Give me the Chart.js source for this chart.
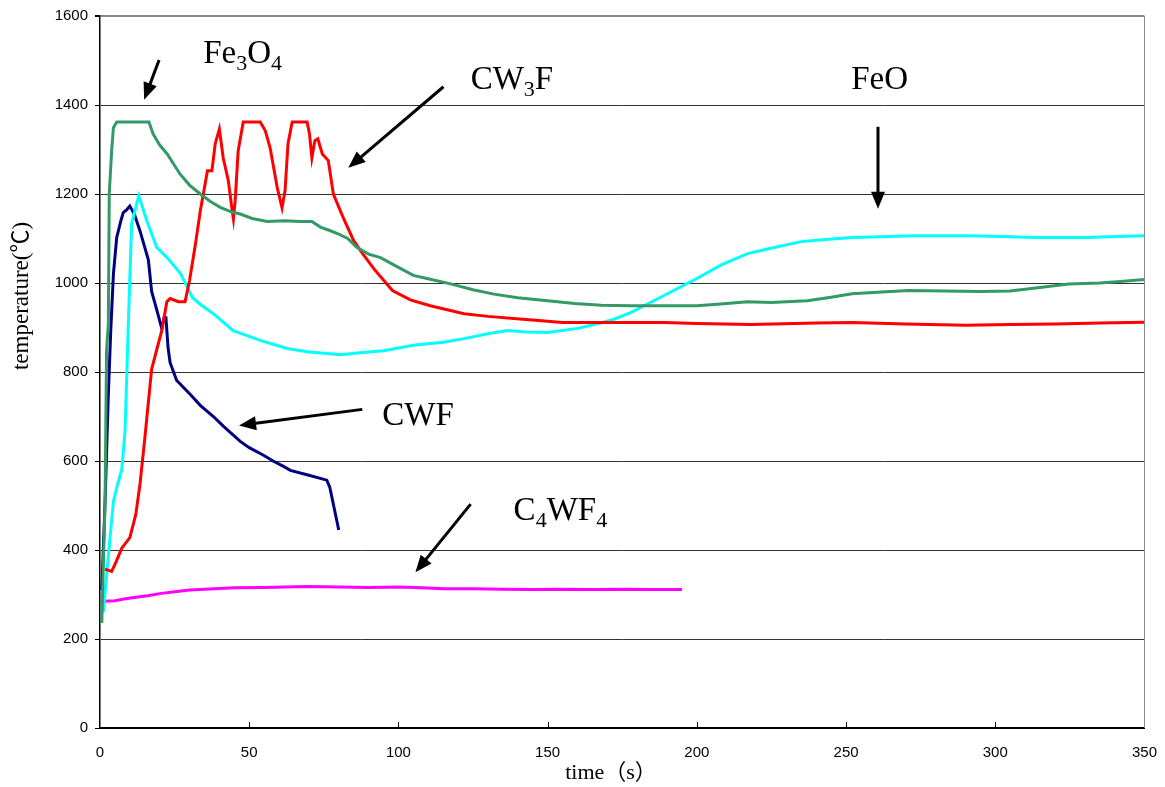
<!DOCTYPE html>
<html><head><meta charset="utf-8">
<script src="https://cdn.jsdelivr.net/npm/chart.js@4.4.1/dist/chart.umd.min.js"></script>
<style>html,body{margin:0;padding:0;background:#fff;}</style>
</head><body>
<canvas id="c" width="1165" height="787"></canvas>
<script>
// ---- data (time in s, temperature in °C) ----
const fe3o4Time = [0.6,1.7,2.2,2.8,3.1,3.9,4.5,5.6,10,16.4,17.8,20,22.5,26.8,30,33.6,37,40.3,44,47,51,56,62,67,71,74,77,80,83,86,90,94,100,105,111,117.5,125,132,140,150,159,168,178,190,200,208,217,225,237,245,252,262,271,283,295,305,315,324.5,335,343,350];
const fe3o4Temp = [236,509,848,909,1200,1297,1349,1362,1362,1362,1335,1310,1290,1245,1220,1200,1183,1170,1160,1155,1145,1138,1140,1138,1138,1125,1118,1110,1100,1080,1065,1057,1035,1017,1008,998,985,975,967,960,954,950,949,949,949,953,958,956,960,968,976,980,983,982,981,982,990,998,1000,1004,1008];

const cw3fTime = [1.7,3.9,5.5,7.3,10,12,13.4,15,17.3,19,20.7,22.4,23.5,26.3,28.5,30,32,33.6,35,36,37.5,38.6,40,41.3,43,44.3,44.7,45.3,46.3,48,53.7,55.4,57,59.4,61,62,63,64.4,69.4,70.2,71,72,73,74.5,76.5,78.2,81.5,85,88,92,98,104,110.7,122,130,138.6,148,155,165,178,189,200,218,240,252,270,290,305,320,335,350];
const cw3fTemp = [357,352,375,404,428,480,548,650,806,850,893,958,965,958,958,1005,1088,1162,1214,1252,1252,1313,1346,1281,1230,1162,1144,1185,1297,1362,1362,1342,1304,1214,1169,1207,1313,1362,1362,1335,1281,1320,1324,1290,1275,1200,1147,1095,1066,1030,983,962,949,931,925,920,915,911,911,911,911,909,907,910,911,908,905,907,908,910,912];

const feoTime = [1.1,2.8,4.5,6,7.3,8.4,9.5,10.6,13,15.7,19,22.5,27,31,34,38,44.6,50,53.7,62.7,70,77,80.5,88,95,105,115,122,130,136.5,143,150,160,167,172,178,189,200,208,217,224,235,243,252,262,273,291,305,313,330,350];
const feoTemp = [260,388,509,550,581,669,909,1133,1196,1140,1080,1057,1021,967,950,931,893,880,871,853,845,841,839,844,848,860,867,875,886,893,890,889,898,909,918,934,972,1010,1040,1066,1077,1093,1098,1102,1104,1106,1106,1104,1102,1102,1106];

const cwfTime = [0.6,1.7,2.8,3.6,4.5,5.6,7,7.8,9,10,11.5,13.4,15,16.2,17.3,19,20.7,21.5,22.1,22.8,23.5,25.7,30.2,33.6,38,41.4,47,50,54.8,58,61.5,63.8,70,76,77,80];
const cwfTemp = [310,509,750,893,1021,1102,1140,1158,1165,1173,1155,1117,1080,1052,981,940,898,922,922,855,821,781,750,725,700,678,644,630,613,600,588,579,568,557,541,445];

const c4wf4Time = [1,5,8,12,16,20,25,30,35,45,55,62,70,80,90,100,108,115,125,135,145,155,165,175,185,195];
const c4wf4Temp = [285,286,290,294,297,302,306,310,312,315,316,317,318,317,316,317,315,313,313,312,311,312,311,312,311,311];

const xTicks = [0,50,100,150,200,250,300,350];
const yTicks = [0,200,400,600,800,1000,1200,1400,1600];

// ---- annotations (in data units) ----
const notes = [
  {parts:[['Fe',0],['3',1],['O',0],['4',1]], at:[34.6,1495], arrow:[[19.8,1501],[14.8,1412]]},
  {parts:[['CW',0],['3',1],['F',0]],          at:[124.2,1436], arrow:[[115.1,1441],[83.2,1259]]},
  {parts:[['FeO',0]],                         at:[251.7,1436], arrow:[[260.7,1351],[260.7,1167]]},
  {parts:[['CWF',0]],                         at:[94.6,680],  arrow:[[87.9,716],[46.6,680]]},
  {parts:[['C',0],['4',1],['WF',0],['4',1]],  at:[138.6,467], arrow:[[124.2,503],[105.7,350]]}
];

function pts(t, v){ return t.map((x,i)=>({x:x, y:v[i]})); }

const decor = {
  id:'decor',
  afterDraw(chart){
    const {ctx, chartArea:a, scales:{x, y}} = chart;
    ctx.save();
    // right frame line
    ctx.strokeStyle = '#888'; ctx.lineWidth = 1;
    const rx = Math.round(a.right)+0.5;
    ctx.beginPath(); ctx.moveTo(rx, a.top); ctx.lineTo(rx, a.bottom); ctx.stroke();
    // inward x tick marks
    ctx.strokeStyle = '#000';
    xTicks.forEach(v=>{
      if (v===0 || v===350) return;
      const px = Math.round(x.getPixelForValue(v))+0.5;
      ctx.beginPath(); ctx.moveTo(px, a.bottom); ctx.lineTo(px, a.bottom-6); ctx.stroke();
    });
    // labels and arrows
    ctx.fillStyle = '#000'; ctx.strokeStyle = '#000';
    ctx.textAlign = 'left'; ctx.textBaseline = 'alphabetic';
    notes.forEach(n=>{
      let px = x.getPixelForValue(n.at[0]);
      const py = y.getPixelForValue(n.at[1]);
      n.parts.forEach(([t, sub])=>{
        ctx.font = sub ? '22px "Liberation Serif"' : '33px "Liberation Serif"';
        ctx.fillText(t, px, py + (sub ? 7 : 0));
        px += ctx.measureText(t).width;
      });
      const x0 = x.getPixelForValue(n.arrow[0][0]), y0 = y.getPixelForValue(n.arrow[0][1]);
      const x1 = x.getPixelForValue(n.arrow[1][0]), y1 = y.getPixelForValue(n.arrow[1][1]);
      const ang = Math.atan2(y1-y0, x1-x0), hl = 17, hw = 7;
      const bx = x1 - hl*Math.cos(ang), by = y1 - hl*Math.sin(ang);
      ctx.lineWidth = 3;
      ctx.beginPath(); ctx.moveTo(x0, y0); ctx.lineTo(bx + 2*Math.cos(ang), by + 2*Math.sin(ang)); ctx.stroke();
      ctx.beginPath();
      ctx.moveTo(x1, y1);
      ctx.lineTo(bx + hw*Math.sin(ang), by - hw*Math.cos(ang));
      ctx.lineTo(bx - hw*Math.sin(ang), by + hw*Math.cos(ang));
      ctx.closePath(); ctx.fill();
    });
    // axis titles
    ctx.font = '22px "Liberation Serif", "Noto Sans CJK JP"';
    ctx.textAlign = 'center'; ctx.textBaseline = 'middle';
    ctx.fillText('time（s）', 611, 773);
    ctx.translate(22, 296); ctx.rotate(-Math.PI/2);
    ctx.font = '23px "Liberation Serif", "Noto Sans CJK JP"';
    ctx.fillText('temperature(℃)', 0, 0);
    ctx.restore();
  }
};

const mk = (label, t, v, color) => ({
  label, data: pts(t, v), borderColor: color, backgroundColor: color,
  borderWidth: 3, pointRadius: 0, tension: 0, fill: false
});

new Chart(document.getElementById('c'), {
  type: 'line',
  data: { datasets: [
    mk('Fe3O4', fe3o4Time, fe3o4Temp, '#339966'),
    mk('CW3F', cw3fTime, cw3fTemp, '#FF0000'),
    mk('FeO', feoTime, feoTemp, '#00FFFF'),
    mk('CWF', cwfTime, cwfTemp, '#000080'),
    mk('C4WF4', c4wf4Time, c4wf4Temp, '#FF00FF')
  ]},
  options: {
    responsive: false, animation: false, devicePixelRatio: 1,
    layout: { padding: { left: 0, right: 15, top: 15, bottom: 0 } },
    plugins: { legend: { display: false }, tooltip: { enabled: false } },
    scales: {
      x: {
        type: 'linear', min: 0, max: 350,
        afterBuildTicks: s => { s.ticks = xTicks.map(v => ({value: v})); },
        afterFit: s => { s.height = 59; },
        grid: { display: false },
        border: { display: true, color: '#000', width: 2 },
        ticks: { color: '#000', font: { family: '"Liberation Sans"', size: 15 }, padding: 8, maxRotation: 0, autoSkip: false,
                 callback: v => String(v) }
      },
      y: {
        min: 0, max: 1600,
        afterBuildTicks: s => { s.ticks = yTicks.map(v => ({value: v})); },
        afterFit: s => { s.width = 100; },
        grid: {
          color: c => (c.tick && c.tick.value === 1600) ? '#888' : '#333',
          lineWidth: c => (c.tick && c.tick.value === 1600) ? 2 : 1,
          tickLength: 5, tickColor: '#000'
        },
        border: { display: true, color: '#000', width: 1.5 },
        ticks: { color: '#000', font: { family: '"Liberation Sans"', size: 15 }, padding: 7,
                 callback: v => String(v) }
      }
    }
  },
  plugins: [decor]
});
</script>
</body></html>
